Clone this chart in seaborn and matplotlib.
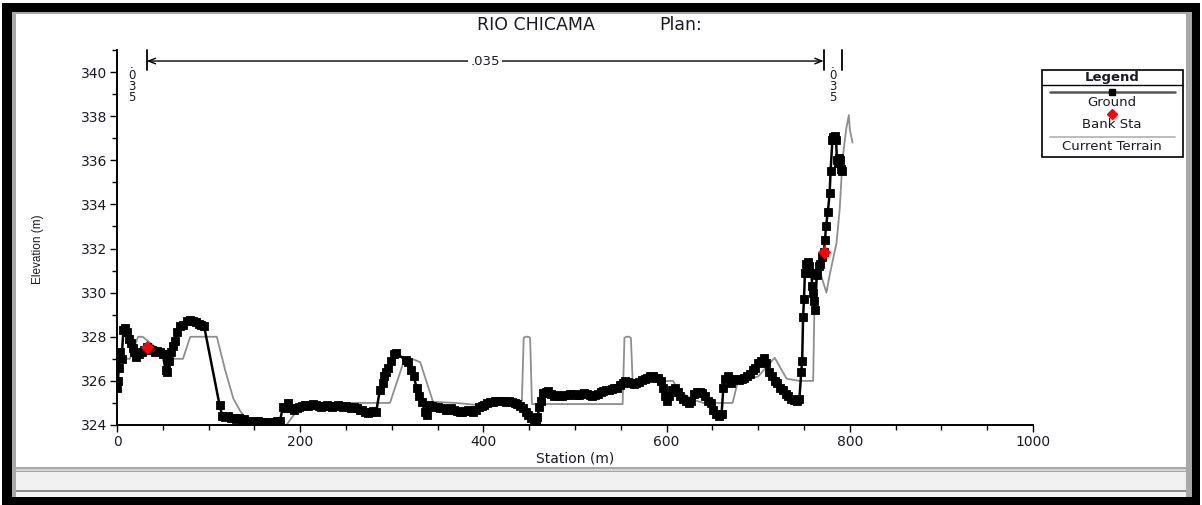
import matplotlib
matplotlib.use("Agg")
import matplotlib.pyplot as plt
from matplotlib.patches import Rectangle
from matplotlib.lines import Line2D
from matplotlib.ticker import MultipleLocator
import seaborn as sns

# ---------------- data ----------------
river_name = "RIO CHICAMA"
plan_label = "Plan:"

ground_station = [
    0, 1, 2, 3, 5, 7, 9, 11, 13, 15, 17, 19, 21, 24, 27, 30, 32.5, 35, 38, 41,
    44, 47, 50, 53, 55, 57, 59, 61, 63, 66, 69, 72, 76, 80, 83, 86, 89, 92, 95,
    112, 115, 118, 121, 124, 127, 130, 133, 136, 139, 142, 145, 148, 151, 154,
    157, 160, 163, 166, 169, 172, 175, 178, 181, 184, 187, 190, 193, 196, 199,
    202, 205, 208, 211, 214, 217, 220, 223, 226, 229, 232, 235, 238, 241, 244,
    247, 250, 253, 256, 259, 262, 265, 268, 271, 274, 277, 280, 283, 287, 290,
    292, 294, 296, 299, 302, 305, 315, 318, 321, 324, 327, 330, 333, 336, 338,
    341, 344, 347, 350, 353, 356, 359, 362, 365, 368, 371, 374, 377, 380, 383,
    386, 389, 392, 395, 398, 401, 404, 407, 410, 413, 416, 419, 422, 425, 428,
    431, 434, 437, 440, 443, 446, 449, 452, 455, 457, 459, 461, 463, 465, 468,
    471, 474, 477, 480, 483, 486, 489, 492, 495, 498, 501, 504, 507, 510, 513,
    516, 519, 522, 525, 528, 531, 534, 537, 540, 543, 546, 549, 552, 555, 558,
    561, 564, 567, 570, 573, 576, 579, 582, 585, 588, 591, 594, 596, 598, 600,
    603, 606, 609, 612, 615, 618, 621, 624, 627, 630, 633, 636, 639, 642, 645,
    648, 651, 654, 657, 660, 662, 664, 667, 670, 673, 676, 679, 682, 685, 688,
    691, 694, 697, 700, 703, 706, 709, 712, 715, 718, 721, 724, 727, 730, 733,
    736, 739, 742, 745, 747, 748, 749, 750, 751, 752, 754, 756, 758, 759, 760,
    761, 762, 764, 766, 768, 770, 771.5, 773, 774, 776, 778, 779, 781, 782, 784,
    785, 786, 787, 788, 789, 790, 792,
]
ground_elev = [
    325.7, 326.0, 326.6, 327.3, 327.0, 328.3, 328.4, 328.2, 327.9, 327.7, 327.5,
    327.3, 327.1, 327.2, 327.3, 327.4, 327.55, 327.45, 327.4, 327.3, 327.35,
    327.3, 327.2, 326.5, 326.4, 326.9, 327.3, 327.6, 327.8, 328.2, 328.5, 328.55,
    328.7, 328.75, 328.7, 328.65, 328.6, 328.55, 328.5,
    324.9, 324.4, 324.35, 324.4, 324.3, 324.3, 324.25, 324.3, 324.2, 324.25,
    324.2, 324.2, 324.2, 324.15, 324.2, 324.15, 324.15, 324.1, 324.15, 324.1,
    324.15, 324.2, 324.2, 324.8, 324.75, 325.0, 324.75, 324.7, 324.75, 324.8,
    324.85, 324.9, 324.85, 324.9, 324.95, 324.9, 324.85, 324.8, 324.85, 324.9,
    324.85, 324.8, 324.85, 324.9, 324.85, 324.8, 324.85, 324.8, 324.75, 324.8,
    324.75, 324.7, 324.7, 324.6, 324.55, 324.6, 324.65, 324.6, 325.6, 325.9,
    326.2, 326.4, 326.6, 326.9, 327.2, 327.25, 326.95, 326.85, 326.5, 326.2,
    325.7, 325.3, 325.05, 324.6, 324.45,
    324.9, 324.85, 324.8, 324.8, 324.75, 324.75, 324.7, 324.7, 324.75, 324.7,
    324.65, 324.6, 324.6, 324.65, 324.7, 324.65, 324.6, 324.7, 324.8, 324.85,
    324.9, 325.0, 325.05, 325.05, 325.1, 325.1, 325.1, 325.1, 325.05, 325.1,
    325.05, 325.0, 324.95, 324.85, 324.75, 324.6, 324.45, 324.3, 324.2, 324.2,
    324.35, 324.8, 325.1, 325.45, 325.5, 325.55, 325.4, 325.3, 325.35, 325.3,
    325.3, 325.35, 325.35, 325.4, 325.4, 325.35, 325.35, 325.4, 325.45, 325.4,
    325.35, 325.3, 325.35, 325.4, 325.5, 325.55, 325.6, 325.6, 325.65, 325.7,
    325.7, 325.8, 325.9, 326.0, 325.95, 325.9, 325.85, 325.9, 325.95, 326.05,
    326.1, 326.15, 326.2, 326.2, 326.15, 326.15, 326.0, 325.7, 325.3, 325.1,
    325.3, 325.6, 325.7, 325.5, 325.3, 325.2, 325.1, 325.0, 325.1, 325.4, 325.5,
    325.5, 325.45, 325.3, 325.1, 325.0, 324.7, 324.5, 324.4, 324.5, 325.7, 326.1,
    326.2, 325.9, 326.1, 326.1, 326.05, 326.1, 326.15, 326.2, 326.3, 326.5,
    326.6, 326.8, 326.9, 327.05, 326.8, 326.4, 326.2, 326.0, 325.9, 325.7, 325.6,
    325.4, 325.3, 325.2, 325.15, 325.1, 325.2, 326.4, 326.9, 328.9, 329.7, 330.9,
    331.3, 331.4, 331.2, 330.9, 330.3, 330.0, 329.6, 329.2, 330.8, 331.2, 331.3,
    331.6, 331.85, 332.4, 333.0, 333.65, 334.5, 335.5, 336.9, 337.05, 337.1,
    336.9, 336.0, 335.9, 336.1, 336.0, 335.6, 335.5,
]

terrain_station = [
    0, 14, 23, 28, 40, 55, 60, 72, 80, 109, 118, 127, 135, 147, 185, 192, 203,
    211, 220, 229, 290, 298, 314, 322, 331, 345, 370, 395, 432, 442, 444, 446,
    449, 451, 453, 552, 554, 556, 559, 561, 563, 607, 614, 629, 640, 672, 678,
    700, 718, 731, 745, 760, 761.5, 765, 770, 774.5, 778, 785.5, 789, 792, 796,
    799, 800, 803,
]
terrain_elev = [
    327.0, 327.0, 328.0, 328.0, 327.6, 327.2, 327.0, 327.0, 328.0, 328.0, 326.5,
    325.2, 324.6, 324.0, 324.0, 324.4, 324.95, 324.75, 324.9, 325.0, 325.0,
    325.0, 327.0, 327.0, 326.85, 325.05, 325.0, 324.9, 325.1, 325.1, 327.95,
    328.0, 328.0, 327.95, 324.95, 324.95, 327.95, 328.0, 328.0, 327.95, 325.95,
    326.0, 325.5, 325.15, 325.0, 325.0, 326.0, 326.2, 327.05, 326.1, 326.0,
    326.0, 329.7, 331.3, 330.6, 330.0, 330.8, 332.25, 333.8, 336.0, 337.4,
    338.05, 337.4, 336.8,
]

bank_station = [32.5, 771.5]
bank_elev = [327.55, 331.85]

mannings_n = [0.035, 0.035, 0.035]

x_ticks = [0, 200, 400, 600, 800, 1000]
y_ticks = [324, 326, 328, 330, 332, 334, 336, 338, 340]

legend_title = "Legend"
legend_labels = ["Ground", "Bank Sta", "Current Terrain"]

# ---------------- style ----------------
sns.set_style("ticks")
plt.rcParams["font.family"] = ["DejaVu Sans"]
TXT = "#1a1a24"

W, H = 1202, 505
fig = plt.figure(figsize=(W / 100, H / 100), dpi=100)
fig.patch.set_facecolor("white")


def fx(px):
    return px / W


def fy(py):
    return 1 - py / H


def box(x0, y0, x1, y1, color, z=0):
    fig.add_artist(Rectangle((fx(x0), fy(y1)), fx(x1) - fx(x0), fy(y0) - fy(y1),
                             transform=fig.transFigure, facecolor=color,
                             edgecolor="none", zorder=z))


# window frame and status bar
box(2, 3, 1200, 505, "black", -10)
box(12, 12, 1192, 497, "#a8a8a8", -9)
box(16, 14, 1186, 467, "white", -8)
box(16, 472, 1186, 490, "#f0f0f0", -8)
box(16, 469, 1186, 471, "#d4d4d4", -8)
box(16, 490, 1186, 492, "#8c8c8c", -8)
box(16, 492, 1186, 497, "#f4f4f4", -8)

# ---------------- axes ----------------
ax = fig.add_axes([fx(117), fy(425), fx(1033) - fx(117), fy(50) - fy(425)])
ax.set_facecolor("white")

sns.lineplot(x=terrain_station, y=terrain_elev, ax=ax, color="#8e8e8e",
             linewidth=1.3, estimator=None, sort=False, zorder=2)
sns.lineplot(x=ground_station, y=ground_elev, ax=ax, color="black",
             linewidth=1.8, marker="s", markersize=6, markeredgecolor="black",
             markeredgewidth=0.6, estimator=None, sort=False, zorder=3)
sns.scatterplot(x=bank_station, y=bank_elev, ax=ax, marker="D", color="red",
                s=40, edgecolor="red", linewidth=0.5, zorder=5)

ax.set_xlim(0, 1000)
ax.set_ylim(324, 341)
sns.despine(ax=ax)
for side in ("left", "bottom"):
    ax.spines[side].set_linewidth(1.4)
    ax.spines[side].set_color("black")

ax.set_xticks(x_ticks)
ax.set_yticks(y_ticks)
ax.xaxis.set_minor_locator(MultipleLocator(50))
ax.yaxis.set_minor_locator(MultipleLocator(1))
ax.tick_params(which="major", direction="out", length=5, width=1,
               color="black", labelsize=10, labelcolor=TXT, pad=2)
ax.tick_params(which="minor", direction="out", length=3.5, width=1,
               color="black")
ax.set_xlabel("")
ax.set_ylabel("")

fig.text(fx(575), fy(458), "Station (m)", ha="center", va="center",
         fontsize=10, color=TXT)
fig.text(fx(38), fy(249), "Elevation (m)", ha="center", va="center",
         rotation=90, fontsize=8.5, color=TXT, family=["Liberation Sans"])

fig.text(fx(536), fy(25), river_name, ha="center", va="center",
         fontsize=12.5, color=TXT)
fig.text(fx(681), fy(25), plan_label, ha="center", va="center",
         fontsize=12.5, color=TXT)

# ---------------- Manning's n bar ----------------
n_text = [("%.3f" % n).lstrip("0") for n in mannings_n]
end_station = ground_station[-1]
bar_top, bar_bot, arrow_y = 341.0, 340.1, 340.5
for xs in (bank_station[0], bank_station[1], end_station):
    ax.plot([xs, xs], [bar_bot, bar_top], color="black", lw=1.3,
            clip_on=False, zorder=6)
ax.annotate("", xy=(bank_station[0], arrow_y), xytext=(bank_station[1], arrow_y),
            arrowprops=dict(arrowstyle="<->,head_length=0.5,head_width=0.2",
                            color="black", lw=1.0, shrinkA=0, shrinkB=0),
            annotation_clip=False, zorder=6)
ax.text((bank_station[0] + bank_station[1]) / 2, arrow_y, n_text[1],
        ha="center", va="center", fontsize=9.5, color=TXT, zorder=7,
        bbox=dict(facecolor="white", edgecolor="none", pad=1.5))
for xs, lab in ((bank_station[0] / 2, n_text[0]),
                ((bank_station[1] + end_station) / 2, n_text[2])):
    ax.text(xs, 340.65, "\n".join(lab), ha="center", va="top", fontsize=8.5,
            linespacing=0.8, color=TXT, clip_on=False, zorder=7)

# ---------------- legend ----------------
fig.add_artist(Rectangle((fx(1042), fy(157)), fx(1183) - fx(1042),
                         fy(70) - fy(157), transform=fig.transFigure,
                         facecolor="white", edgecolor="black", lw=1.2, zorder=8))
fig.text(fx(1112), fy(77.5), legend_title, ha="center", va="center",
         fontsize=9.5, fontweight="bold", color=TXT, zorder=9)
fig.add_artist(Line2D([fx(1042), fx(1183)], [fy(85), fy(85)], color="black",
                      lw=1.0, transform=fig.transFigure, zorder=9))
fig.add_artist(Line2D([fx(1050), fx(1175)], [fy(92), fy(92)], color="#555555",
                      lw=1.8, transform=fig.transFigure, zorder=9))
fig.add_artist(Line2D([fx(1112)], [fy(92)], color="black", marker="s",
                      markersize=5, lw=0, transform=fig.transFigure, zorder=10))
fig.text(fx(1112), fy(103), legend_labels[0], ha="center", va="center",
         fontsize=9.5, color=TXT, zorder=9)
fig.add_artist(Line2D([fx(1112)], [fy(114)], color="red", marker="D",
                      markersize=5, lw=0, transform=fig.transFigure, zorder=10))
fig.text(fx(1112), fy(125), legend_labels[1], ha="center", va="center",
         fontsize=9.5, color=TXT, zorder=9)
fig.add_artist(Line2D([fx(1050), fx(1175)], [fy(137), fy(137)], color="#b0b0b0",
                      lw=1.2, transform=fig.transFigure, zorder=9))
fig.text(fx(1112), fy(147), legend_labels[2], ha="center", va="center",
         fontsize=9.5, color=TXT, zorder=9)

fig.savefig("out.png", dpi=100, facecolor=fig.get_facecolor())
